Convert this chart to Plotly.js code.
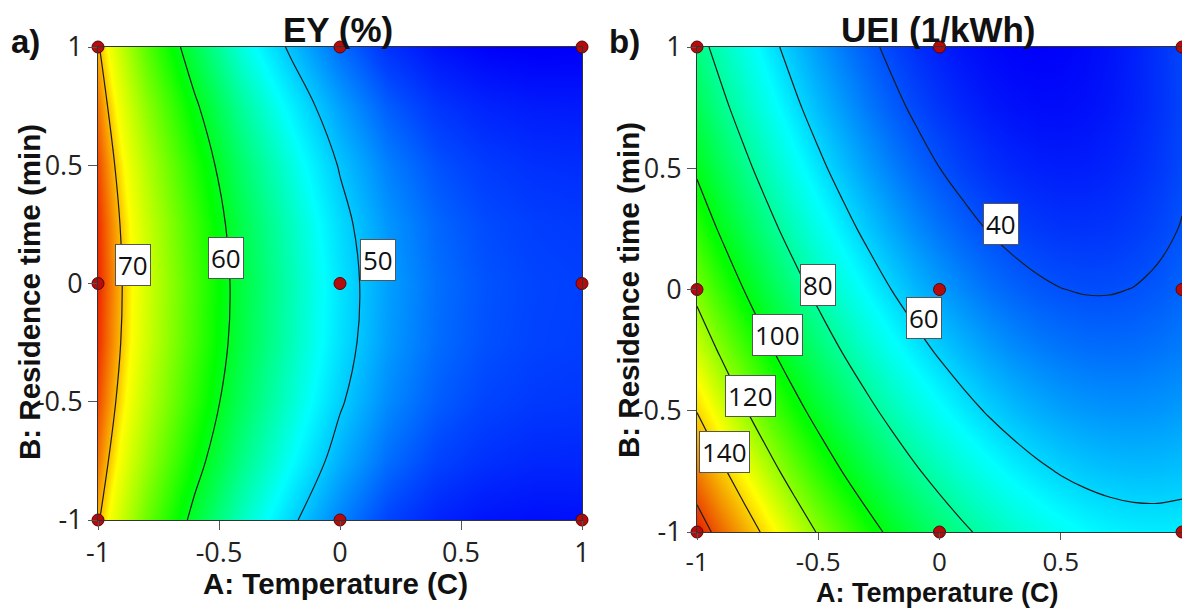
<!DOCTYPE html>
<html>
<head>
<meta charset="utf-8">
<script src="https://cdn.plot.ly/plotly-3.0.1.min.js"></script>
<style>
  html, body { margin: 0; padding: 0; background: #fff; }
  #chart { width: 1182px; height: 609px; }
</style>
</head>
<body>
<div id="chart"></div>
<script>
// Coded factor levels of the response-surface grids
const eyA = [-1, -0.8, -0.6, -0.4, -0.2, 0, 0.2, 0.4, 0.6, 0.8, 1];
const ueiA = [-1, -0.9, -0.8, -0.7, -0.6, -0.5, -0.4, -0.3, -0.2, -0.1, 0,
              0.1, 0.2, 0.3, 0.4, 0.5, 0.6, 0.7, 0.8, 0.9, 1];
const factorB = [-1, -0.75, -0.5, -0.25, 0, 0.25, 0.5, 0.75, 1];

// EY (%) predicted over the grid, one row per B level
const eyValues = [
  [70.20, 64.40, 59.20, 54.50, 50.50, 46.80, 43.80, 42.00, 41.10, 40.80, 40.90],
  [71.12, 65.90, 61.02, 56.48, 52.57, 48.87, 45.78, 43.80, 42.73, 42.25, 42.18],
  [71.77, 66.95, 62.30, 57.85, 54.00, 50.30, 47.15, 45.05, 43.85, 43.25, 43.05],
  [72.17, 67.55, 63.02, 58.63, 54.82, 51.12, 47.93, 45.75, 44.48, 43.80, 43.53],
  [72.30, 67.70, 63.20, 58.80, 55.00, 51.30, 48.10, 45.90, 44.60, 43.90, 43.60],
  [72.17, 67.39, 62.82, 58.37, 54.56, 50.86, 47.67, 45.49, 44.22, 43.54, 43.27],
  [71.77, 66.65, 61.90, 57.35, 53.50, 49.80, 46.65, 44.55, 43.35, 42.75, 42.55],
  [71.12, 65.44, 60.42, 55.72, 51.81, 48.11, 45.02, 43.04, 41.97, 41.49, 41.42],
  [70.20, 63.80, 58.40, 53.50, 49.50, 45.80, 42.80, 41.00, 40.10, 39.80, 39.90]
];

// UEI (1/kWh) predicted over the grid, one row per B level
const ueiValues = [
  [166.20, 155.66, 145.68, 136.28, 127.44, 119.18, 111.48, 104.36, 97.80, 91.82, 86.40,
   81.56, 77.28, 73.58, 70.44, 67.88, 65.88, 64.46, 63.60, 63.32, 63.60],
  [152.40, 142.21, 132.60, 123.55, 115.07, 107.16, 99.83, 93.06, 86.86, 81.23, 76.18,
   71.69, 67.77, 64.42, 61.65, 59.44, 57.80, 56.73, 56.24, 56.31, 56.95],
  [139.60, 129.77, 120.51, 111.82, 103.70, 96.15, 89.17, 82.76, 76.92, 71.65, 66.95,
   62.82, 59.26, 56.27, 53.85, 52.00, 50.72, 50.01, 49.87, 50.30, 51.30],
  [127.80, 118.33, 109.43, 101.09, 93.33, 86.14, 79.52, 73.46, 67.98, 63.07, 58.73,
   54.95, 51.75, 49.12, 47.06, 45.56, 44.64, 44.29, 44.51, 45.29, 46.65],
  [117.00, 107.89, 99.34, 91.37, 83.96, 77.13, 70.86, 65.17, 60.04, 55.49, 51.50,
   48.09, 45.24, 42.97, 41.26, 40.13, 39.56, 39.57, 40.14, 41.29, 43.00],
  [107.20, 98.44, 90.26, 82.64, 75.59, 69.11, 63.20, 57.87, 53.10, 48.90, 45.28,
   42.22, 39.73, 37.81, 36.47, 35.69, 35.48, 35.84, 36.78, 38.28, 40.35],
  [98.40, 90.00, 82.17, 74.91, 68.22, 62.10, 56.55, 51.57, 47.16, 43.32, 40.05,
   37.35, 35.22, 33.66, 32.67, 32.25, 32.40, 33.12, 34.41, 36.27, 38.70],
  [90.60, 82.56, 75.09, 68.18, 61.85, 56.09, 50.90, 46.27, 42.22, 38.74, 35.83,
   33.48, 31.71, 30.51, 29.88, 29.81, 30.32, 31.40, 33.05, 35.26, 38.05],
  [83.80, 76.12, 69.00, 62.46, 56.48, 51.08, 46.24, 41.98, 38.28, 35.16, 32.60,
   30.62, 29.20, 28.36, 28.08, 28.38, 29.24, 30.68, 32.68, 35.26, 38.40]
];

// Contour levels
const eyLevels = [50, 60, 70];
const ueiLevels = [40, 60, 80, 100, 120, 140, 160];
const eyLabelled = [70, 60, 50];
const ueiLabelled = [40, 60, 80, 100, 120, 140];

// Design points (coded)
const designA = [-1, 0, 1, -1, 0, 1, -1, 0, 1];
const designB = [-1, -1, -1, 0, 0, 0, 1, 1, 1];

// Axis ticks
const tickVals = [-1, -0.5, 0, 0.5, 1];
const tickText = ['-1', '-0.5', '0', '0.5', '1'];

// Panel text
const panelTitles = ['EY (%)', 'UEI (1/kWh)'];
const panelTags = ['a)', 'b)'];
const xTitle = 'A: Temperature (C)';
const yTitle = 'B: Residence time (min)';

// ---- helpers ----
function flat(m) { return m.reduce((a, r) => a.concat(r), []); }

// Rainbow colour scale placed by value anchors
function buildScale(anchors, zmin, zmax) {
  const out = [];
  anchors.forEach(([v, c]) => {
    let f = (v - zmin) / (zmax - zmin);
    f = Math.max(0, Math.min(1, f));
    out.push([f, c]);
  });
  if (out[0][0] > 0) out.unshift([0, out[0][1]]);
  if (out[out.length - 1][0] < 1) out.push([1, out[out.length - 1][1]]);
  return out;
}

const eyMin = Math.min(...flat(eyValues)), eyMax = Math.max(...flat(eyValues));
const ueiMin = Math.min(...flat(ueiValues)), ueiMax = Math.max(...flat(ueiValues));

const eyScale = buildScale([
  [40, 'rgb(0,0,250)'], [44, 'rgb(0,70,255)'], [52.5, 'rgb(0,255,255)'],
  [61, 'rgb(0,255,0)'], [69, 'rgb(255,255,0)'], [72.3, 'rgb(240,40,0)']
], eyMin, eyMax);

const ueiScale = buildScale([
  [28, 'rgb(0,0,250)'], [66, 'rgb(0,255,255)'], [102, 'rgb(0,255,0)'],
  [134, 'rgb(255,255,0)'], [166, 'rgb(230,30,0)']
], ueiMin, ueiMax);

const lineColor = '#1c1c1c';

function surface(xs, z, scale, zmin, zmax, levels, xa, ya) {
  return [
    {
      type: 'heatmap', x: xs, y: factorB, z: z,
      zsmooth: 'best', colorscale: scale, zmin: zmin, zmax: zmax,
      showscale: false, hoverinfo: 'skip', xaxis: xa, yaxis: ya
    },
    {
      type: 'contour', x: xs, y: factorB, z: z,
      contours: {
        coloring: 'none', start: levels[0], end: levels[levels.length - 1],
        size: levels[1] - levels[0], showlabels: false
      },
      line: { color: lineColor, width: 1.2, smoothing: 1 },
      showscale: false, hoverinfo: 'skip', xaxis: xa, yaxis: ya
    },
    {
      type: 'scatter', mode: 'markers', x: designA, y: designB,
      marker: { size: 12, color: '#b40c0c', line: { color: '#5c0000', width: 1 } },
      cliponaxis: false, hoverinfo: 'skip', xaxis: xa, yaxis: ya
    }
  ];
}

const data = [].concat(
  surface(eyA, eyValues, eyScale, eyMin, eyMax, eyLevels, 'x', 'y'),
  surface(ueiA, ueiValues, ueiScale, ueiMin, ueiMax, ueiLevels, 'x2', 'y2')
);

function axis(domain, anchor, fontSize, tickLen) {
  return {
    domain: domain, anchor: anchor, range: [-1, 1],
    tickmode: 'array', tickvals: tickVals, ticktext: tickText,
    ticks: 'outside', ticklen: tickLen, tickwidth: 1, tickcolor: '#555',
    showline: true, mirror: true, linecolor: '#333', linewidth: 1,
    showgrid: false, zeroline: false, fixedrange: true,
    tickfont: { family: 'Open Sans, Noto Sans, sans-serif', size: fontSize, color: '#222' }
  };
}

// Contour label placement (coded A, B)
const eyLabelSpots = { 70: [-0.855, 0.078], 60: [-0.471, 0.108], 50: [0.157, 0.099] };
const ueiLabelSpots = {
  40: [0.253, 0.270], 60: [-0.064, -0.118], 80: [-0.503, 0.019],
  100: [-0.667, -0.188], 120: [-0.778, -0.439], 140: [-0.885, -0.670]
};

function levelLabel(level, spot, xr, yr) {
  return {
    xref: xr, yref: yr, x: spot[0], y: spot[1], text: String(level),
    showarrow: false, bgcolor: '#ffffff', bordercolor: '#555', borderwidth: 1, borderpad: 2,
    font: { family: 'Open Sans, Noto Sans, sans-serif', size: 26, color: '#111' }
  };
}

const boldFont = (size) => ({ family: 'Liberation Sans, Arial, sans-serif', size: size, color: '#111' });

const annotations = [];
eyLabelled.forEach(l => annotations.push(levelLabel(l, eyLabelSpots[l], 'x', 'y')));
ueiLabelled.forEach(l => annotations.push(levelLabel(l, ueiLabelSpots[l], 'x2', 'y2')));

// Panel titles, tags and axis titles (paper coordinates)
const W = 1182, H = 609;
const px = (v) => v / W, py = (v) => (H - v) / H;
const textBits = [
  { text: '<b>' + panelTitles[0] + '</b>', x: px(338), y: py(29), size: 35 },
  { text: '<b>' + panelTitles[1] + '</b>', x: px(938), y: py(29), size: 35 },
  { text: '<b>' + panelTags[0] + '</b>', x: px(25), y: py(41), size: 33 },
  { text: '<b>' + panelTags[1] + '</b>', x: px(624), y: py(41), size: 33 },
  { text: '<b>' + xTitle + '</b>', x: px(335), y: py(583), size: 29.5 },
  { text: '<b>' + xTitle + '</b>', x: px(937), y: py(593), size: 27 },
  { text: '<b>' + yTitle + '</b>', x: px(29), y: py(292), size: 29.5, angle: -90 },
  { text: '<b>' + yTitle + '</b>', x: px(628), y: py(290), size: 29.5, angle: -90 }
];
textBits.forEach(t => annotations.push({
  xref: 'paper', yref: 'paper', x: t.x, y: t.y, xanchor: 'center', yanchor: 'middle',
  text: t.text, showarrow: false, textangle: t.angle || 0, font: boldFont(t.size)
}));

const layout = {
  width: W, height: H,
  margin: { l: 0, r: 0, t: 0, b: 0 },
  paper_bgcolor: '#fff', plot_bgcolor: '#fff',
  showlegend: false,
  xaxis: axis([98 / W, 582 / W], 'y', 27, 9),
  yaxis: axis([(H - 520) / H, (H - 47) / H], 'x', 27, 9),
  xaxis2: axis([697 / W, 1], 'y2', 26, 7),
  yaxis2: axis([(H - 532) / H, (H - 47) / H], 'x2', 27, 9),
  annotations: annotations
};

Plotly.newPlot('chart', data, layout, { displayModeBar: false, staticPlot: true });
</script>
</body>
</html>
